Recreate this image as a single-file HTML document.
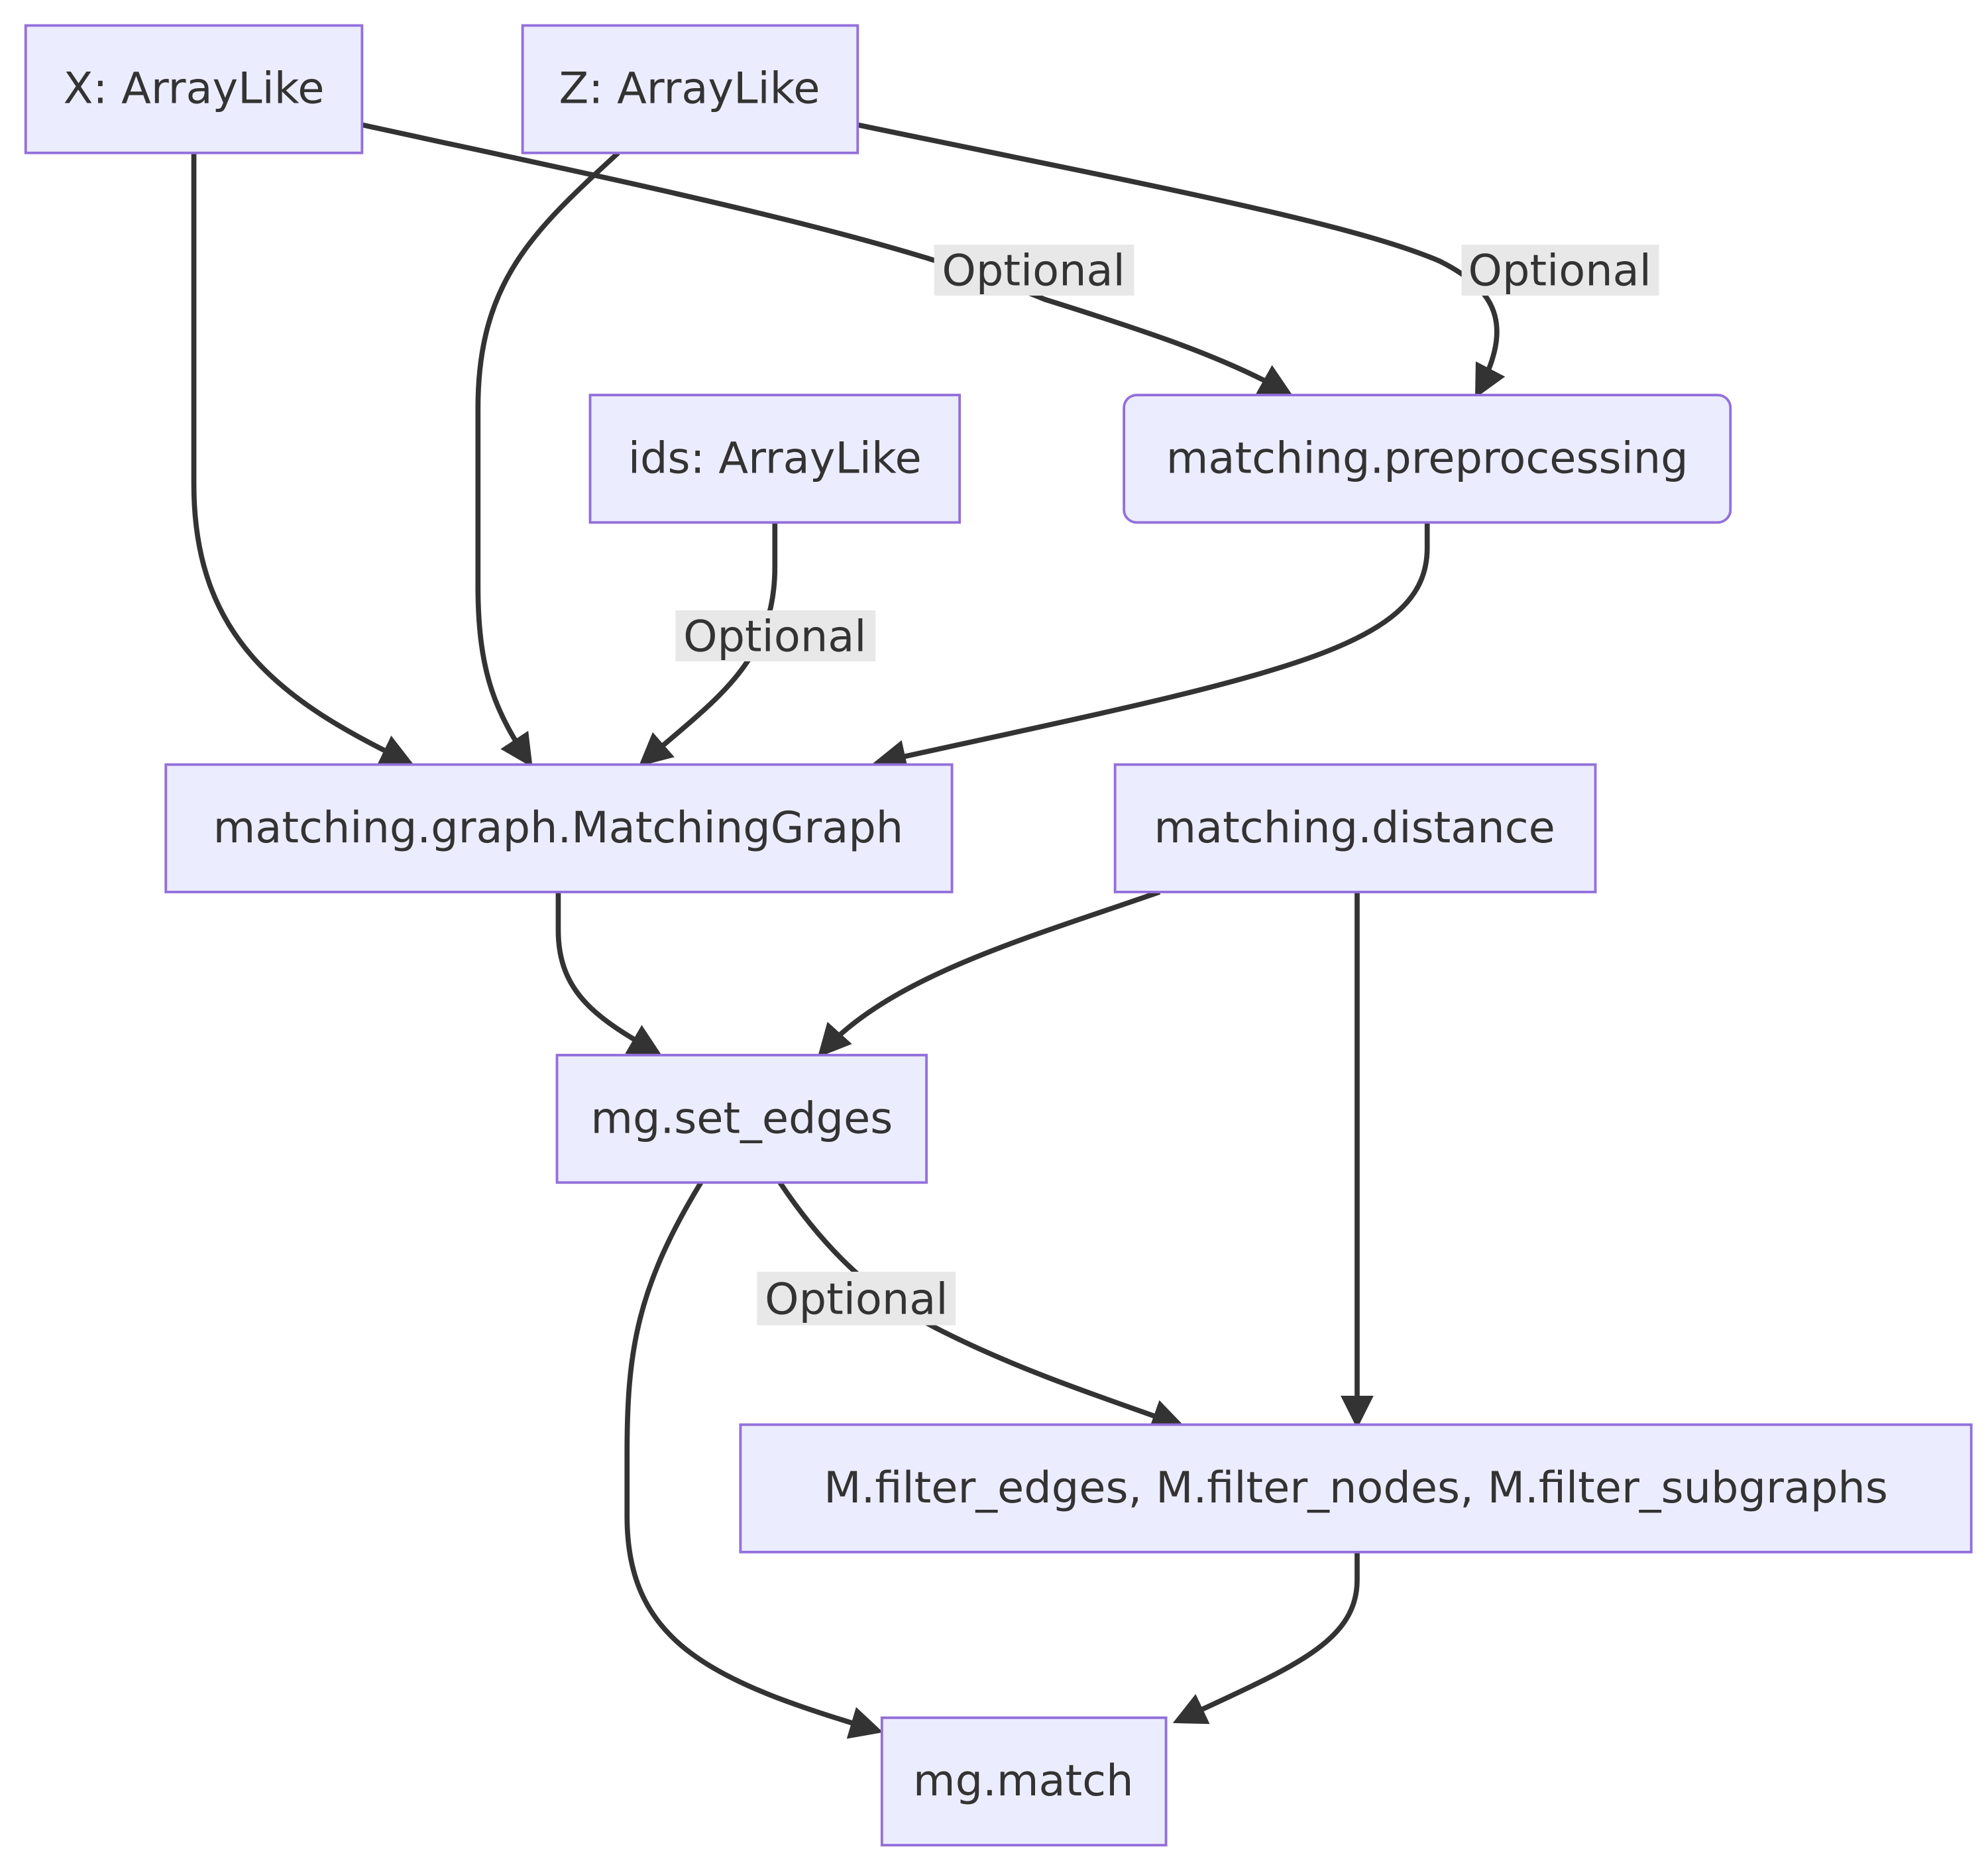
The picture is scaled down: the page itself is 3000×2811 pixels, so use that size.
<!DOCTYPE html>
<html><head><meta charset="utf-8"><style>
html,body{margin:0;padding:0;background:#fff;}
svg{display:block;}
text{font-family:"DejaVu Sans","Liberation Sans",sans-serif;font-size:34px;fill:#333;}
</style></head><body>
<svg width="3000" height="2811" viewBox="0 0 1560 1462" xmlns="http://www.w3.org/2000/svg">
<defs>
<marker id="a" viewBox="0 0 10 10" refX="8" refY="5" markerWidth="6.5" markerHeight="6.5" orient="auto" markerUnits="strokeWidth">
<path d="M0,0 L10,5 L0,10 z" fill="#333"/></marker>
</defs>
<g fill="none" stroke="#333" stroke-width="4" marker-end="url(#a)">
<path d="M152,120 L152,380 C152,500 220,550 320,598"/>
<path d="M284,98 C500,145 700,185 820,235 C900,260 960,280 1010,308"/>
<path d="M485,120 C420,180 375,220 375,320 L375,460 C375,530 390,560 415,598"/>
<path d="M673,98 C900,145 1060,175 1130,205 C1180,230 1185,260 1160,308"/>
<path d="M608,410 L608,445 C608,520 560,550 505,598"/>
<path d="M1120,410 L1120,430 C1120,510 1000,530 690,598"/>
<path d="M438,700 L438,730 C438,780 470,800 515,826"/>
<path d="M910,700 C810,735 700,765 645,826"/>
<path d="M1065,700 L1065,1116"/>
<path d="M550,928 C500,1010 492,1060 492,1140 L492,1190 C492,1290 560,1320 688,1358"/>
<path d="M612,928 C650,985 690,1020 740,1045 C800,1075 860,1095 925,1118"/>
<path d="M1065,1218 L1065,1240 C1065,1290 1010,1310 925,1350"/>
</g>
<g fill="#e8e8e8">
<rect x="733" y="192" width="157" height="40"/>
<rect x="1147" y="192" width="155" height="40"/>
<rect x="530" y="479" width="157" height="40"/>
<rect x="594" y="998" width="156" height="42"/>
</g>
<g text-anchor="middle">
<text x="811" y="224">Optional</text>
<text x="1224" y="224">Optional</text>
<text x="608" y="511">Optional</text>
<text x="672" y="1031">Optional</text>
</g>
<g fill="#ECECFF" stroke="#9370DB" stroke-width="2">
<rect x="20" y="20" width="264" height="100"/>
<rect x="410" y="20" width="263" height="100"/>
<rect x="463" y="310" width="290" height="100"/>
<rect x="882" y="310" width="476" height="100" rx="10"/>
<rect x="130" y="600" width="617" height="100"/>
<rect x="875" y="600" width="377" height="100"/>
<rect x="437" y="828" width="290" height="100"/>
<rect x="581" y="1118" width="966" height="100"/>
<rect x="692" y="1348" width="223" height="100"/>
</g>
<g text-anchor="middle">
<text x="152" y="81">X: ArrayLike</text>
<text x="541" y="81">Z: ArrayLike</text>
<text x="608" y="371">ids: ArrayLike</text>
<text x="1120" y="371">matching.preprocessing</text>
<text x="438" y="661">matching.graph.MatchingGraph</text>
<text x="1063" y="661">matching.distance</text>
<text x="582" y="889">mg.set_edges</text>
<text x="1064" y="1179">M.filter_edges, M.filter_nodes, M.filter_subgraphs</text>
<text x="803" y="1409">mg.match</text>
</g>
</svg>
</body></html>
